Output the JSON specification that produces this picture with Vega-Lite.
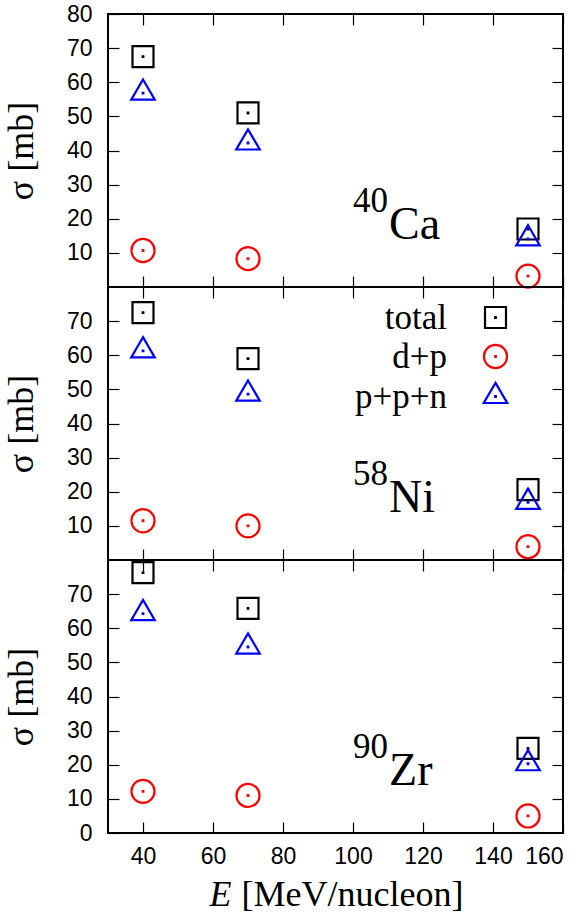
{
  "$schema": "https://vega.github.io/schema/vega-lite/v6.json",
  "autosize": {"type": "pad"},
  "padding": {"left": 2, "top": 2, "right": 0, "bottom": 0},
  "background": "white",
  "datasets": {
    "points": [
      {"nucleus": "Ca", "series": "total", "E": 40, "sigma": 67.5},
      {"nucleus": "Ca", "series": "total", "E": 70, "sigma": 51},
      {"nucleus": "Ca", "series": "total", "E": 150, "sigma": 17},
      {"nucleus": "Ca", "series": "d+p", "E": 40, "sigma": 10.7},
      {"nucleus": "Ca", "series": "d+p", "E": 70, "sigma": 8.3},
      {"nucleus": "Ca", "series": "d+p", "E": 150, "sigma": 3.2},
      {"nucleus": "Ca", "series": "p+p+n", "E": 40, "sigma": 56.8},
      {"nucleus": "Ca", "series": "p+p+n", "E": 70, "sigma": 42.2},
      {"nucleus": "Ca", "series": "p+p+n", "E": 150, "sigma": 14.1},
      {"nucleus": "Ni", "series": "total", "E": 40, "sigma": 72.5},
      {"nucleus": "Ni", "series": "total", "E": 70, "sigma": 59},
      {"nucleus": "Ni", "series": "total", "E": 150, "sigma": 20.6},
      {"nucleus": "Ni", "series": "d+p", "E": 40, "sigma": 11.5},
      {"nucleus": "Ni", "series": "d+p", "E": 70, "sigma": 10},
      {"nucleus": "Ni", "series": "d+p", "E": 150, "sigma": 3.9},
      {"nucleus": "Ni", "series": "p+p+n", "E": 40, "sigma": 61.3},
      {"nucleus": "Ni", "series": "p+p+n", "E": 70, "sigma": 48.6},
      {"nucleus": "Ni", "series": "p+p+n", "E": 150, "sigma": 16.9},
      {"nucleus": "Zr", "series": "total", "E": 40, "sigma": 76.3},
      {"nucleus": "Zr", "series": "total", "E": 70, "sigma": 65.8},
      {"nucleus": "Zr", "series": "total", "E": 150, "sigma": 24.8},
      {"nucleus": "Zr", "series": "d+p", "E": 40, "sigma": 12.2},
      {"nucleus": "Zr", "series": "d+p", "E": 70, "sigma": 11},
      {"nucleus": "Zr", "series": "d+p", "E": 150, "sigma": 5},
      {"nucleus": "Zr", "series": "p+p+n", "E": 40, "sigma": 64.3},
      {"nucleus": "Zr", "series": "p+p+n", "E": 70, "sigma": 54.5},
      {"nucleus": "Zr", "series": "p+p+n", "E": 150, "sigma": 20.3}
    ],
    "labels": [
      {"nucleus": "Ca", "mass": "40", "element": "Ca", "E": 110.3, "sigma": 14},
      {"nucleus": "Ni", "mass": "58", "element": "Ni", "E": 110.3, "sigma": 14},
      {"nucleus": "Zr", "mass": "90", "element": "Zr", "E": 110.3, "sigma": 14}
    ]
  },
  "config": {
    "view": {"stroke": "black", "strokeWidth": 2},
    "axis": {
      "domain": false,
      "grid": false,
      "labelFont": "Liberation Sans",
      "labelFontSize": 23,
      "labelColor": "black",
      "tickColor": "black",
      "tickWidth": 1.2,
      "tickSize": -11,
      "titleFont": "Liberation Serif",
      "titleFontSize": 36,
      "titleFontWeight": "normal",
      "titleColor": "black"
    },
    "text": {"font": "Liberation Serif", "color": "black"}
  },
  "spacing": 0,
  "bounds": "flush",
  "resolve": {"scale": {"color": "independent", "shape": "independent"}},
  "vconcat": [
    {
      "width": 455,
      "height": 273,
      "layer": [
        {
          "data": {"name": "points"},
          "transform": [{"filter": "datum.nucleus === 'Ca'"}],
          "mark": {"type": "point", "filled": false, "size": 441, "strokeWidth": 2.2, "opacity": 1},
          "encoding": {
            "x": {"field": "E", "type": "quantitative", "scale": {"domain": [30, 160], "nice": false, "zero": false},
                  "axis": {"orient": "bottom", "values": [40, 60, 80, 100, 120, 140, 160], "labels": false, "title": null}},
            "y": {"field": "sigma", "type": "quantitative", "scale": {"domain": [0, 80], "nice": false},
                  "axis": {"orient": "left", "values": [10, 20, 30, 40, 50, 60, 70, 80], "labelPadding": 27, "title": "σ [mb]", "titlePadding": 26}},
            "color": {"field": "series", "type": "nominal", "scale": {"domain": ["total", "d+p", "p+p+n"], "range": ["black", "#ff0000", "#0000ff"]}, "legend": null},
            "shape": {"field": "series", "type": "nominal", "scale": {"domain": ["total", "d+p", "p+p+n"], "range": ["M-1,-1H1V1H-1Z M-0.03,-0.03H0.03V0.03H-0.03Z", "M1.1,0A1.1,1.1,0,1,1,-1.1,0A1.1,1.1,0,1,1,1.1,0Z M-0.03,-0.03H0.03V0.03H-0.03Z", "M0,-1.3L1.12,0.62L-1.12,0.62Z M-0.03,-0.03H0.03V0.03H-0.03Z"]}, "legend": null}
          }
        },
        {
          "data": {"name": "points"},
          "transform": [{"filter": "datum.nucleus === 'Ca'"}],
          "mark": {"type": "point", "opacity": 0},
          "encoding": {
            "x": {"field": "E", "type": "quantitative", "scale": {"domain": [30, 160], "nice": false, "zero": false},
                  "axis": {"orient": "top", "values": [40, 60, 80, 100, 120, 140, 160], "labels": false, "title": null}},
            "y": {"field": "sigma", "type": "quantitative", "scale": {"domain": [0, 80], "nice": false},
                  "axis": {"orient": "right", "values": [10, 20, 30, 40, 50, 60, 70], "labels": false, "title": null}}
          }
        },
        {
          "data": {"name": "labels"},
          "transform": [{"filter": "datum.nucleus === 'Ca'"}],
          "mark": {"type": "text", "fontSize": 46, "align": "left", "baseline": "alphabetic"},
          "encoding": {
            "x": {"field": "E", "type": "quantitative", "axis": null},
            "y": {"field": "sigma", "type": "quantitative", "axis": null},
            "text": {"field": "element"}
          }
        },
        {
          "data": {"name": "labels"},
          "transform": [{"filter": "datum.nucleus === 'Ca'"}],
          "mark": {"type": "text", "fontSize": 35, "align": "right", "baseline": "alphabetic", "dx": -1, "dy": -27},
          "encoding": {
            "x": {"field": "E", "type": "quantitative", "axis": null},
            "y": {"field": "sigma", "type": "quantitative", "axis": null},
            "text": {"field": "mass"}
          }
        }
      ],
      "resolve": {"axis": {"x": "independent", "y": "independent"}}
    },
    {
      "width": 455,
      "height": 273,
      "layer": [
        {
          "data": {"name": "points"},
          "transform": [{"filter": "datum.nucleus === 'Ni'"}],
          "mark": {"type": "point", "filled": false, "size": 441, "strokeWidth": 2.2, "opacity": 1},
          "encoding": {
            "x": {"field": "E", "type": "quantitative", "scale": {"domain": [30, 160], "nice": false, "zero": false},
                  "axis": {"orient": "bottom", "values": [40, 60, 80, 100, 120, 140, 160], "labels": false, "title": null}},
            "y": {"field": "sigma", "type": "quantitative", "scale": {"domain": [0, 80], "nice": false},
                  "axis": {"orient": "left", "values": [10, 20, 30, 40, 50, 60, 70], "labelPadding": 27, "title": "σ [mb]", "titlePadding": 26}},
            "color": {"field": "series", "type": "nominal", "scale": {"domain": ["total", "d+p", "p+p+n"], "range": ["black", "#ff0000", "#0000ff"]},
                      "legend": {"orient": "none", "legendX": 370, "legendY": 13, "title": null, "padding": 0, "labelAlign": "right", "labelOffset": -66, "labelFont": "Liberation Serif", "labelFontSize": 35, "labelColor": "black", "symbolSize": 441, "symbolStrokeWidth": 2.2, "rowPadding": 3}},
            "shape": {"field": "series", "type": "nominal", "scale": {"domain": ["total", "d+p", "p+p+n"], "range": ["M-1,-1H1V1H-1Z M-0.03,-0.03H0.03V0.03H-0.03Z", "M1.1,0A1.1,1.1,0,1,1,-1.1,0A1.1,1.1,0,1,1,1.1,0Z M-0.03,-0.03H0.03V0.03H-0.03Z", "M0,-1.3L1.12,0.62L-1.12,0.62Z M-0.03,-0.03H0.03V0.03H-0.03Z"]},
                      "legend": {"orient": "none", "legendX": 370, "legendY": 13, "title": null, "padding": 0, "labelAlign": "right", "labelOffset": -66, "labelFont": "Liberation Serif", "labelFontSize": 35, "labelColor": "black", "symbolSize": 441, "symbolStrokeWidth": 2.2, "rowPadding": 3}}
          }
        },
        {
          "data": {"name": "points"},
          "transform": [{"filter": "datum.nucleus === 'Ni'"}],
          "mark": {"type": "point", "opacity": 0},
          "encoding": {
            "x": {"field": "E", "type": "quantitative", "scale": {"domain": [30, 160], "nice": false, "zero": false},
                  "axis": {"orient": "top", "values": [40, 60, 80, 100, 120, 140, 160], "labels": false, "title": null}},
            "y": {"field": "sigma", "type": "quantitative", "scale": {"domain": [0, 80], "nice": false},
                  "axis": {"orient": "right", "values": [10, 20, 30, 40, 50, 60, 70], "labels": false, "title": null}}
          }
        },
        {
          "data": {"name": "labels"},
          "transform": [{"filter": "datum.nucleus === 'Ni'"}],
          "mark": {"type": "text", "fontSize": 46, "align": "left", "baseline": "alphabetic"},
          "encoding": {
            "x": {"field": "E", "type": "quantitative", "axis": null},
            "y": {"field": "sigma", "type": "quantitative", "axis": null},
            "text": {"field": "element"}
          }
        },
        {
          "data": {"name": "labels"},
          "transform": [{"filter": "datum.nucleus === 'Ni'"}],
          "mark": {"type": "text", "fontSize": 35, "align": "right", "baseline": "alphabetic", "dx": -1, "dy": -27},
          "encoding": {
            "x": {"field": "E", "type": "quantitative", "axis": null},
            "y": {"field": "sigma", "type": "quantitative", "axis": null},
            "text": {"field": "mass"}
          }
        }
      ],
      "resolve": {"axis": {"x": "independent", "y": "independent"}}
    },
    {
      "width": 455,
      "height": 273,
      "layer": [
        {
          "data": {"name": "points"},
          "transform": [{"filter": "datum.nucleus === 'Zr'"}],
          "mark": {"type": "point", "filled": false, "size": 441, "strokeWidth": 2.2, "opacity": 1},
          "encoding": {
            "x": {"field": "E", "type": "quantitative", "scale": {"domain": [30, 160], "nice": false, "zero": false},
                  "axis": {"orient": "bottom", "values": [40, 60, 80, 100, 120, 140, 160], "labelPadding": 23, "title": "E", "titleFontStyle": "italic", "titleAlign": "left", "titleBaseline": "alphabetic", "titleX": 101, "titleY": 72}},
            "y": {"field": "sigma", "type": "quantitative", "scale": {"domain": [0, 80], "nice": false},
                  "axis": {"orient": "left", "values": [0, 10, 20, 30, 40, 50, 60, 70], "labelPadding": 27, "title": "σ [mb]", "titlePadding": 26}},
            "color": {"field": "series", "type": "nominal", "scale": {"domain": ["total", "d+p", "p+p+n"], "range": ["black", "#ff0000", "#0000ff"]}, "legend": null},
            "shape": {"field": "series", "type": "nominal", "scale": {"domain": ["total", "d+p", "p+p+n"], "range": ["M-1,-1H1V1H-1Z M-0.03,-0.03H0.03V0.03H-0.03Z", "M1.1,0A1.1,1.1,0,1,1,-1.1,0A1.1,1.1,0,1,1,1.1,0Z M-0.03,-0.03H0.03V0.03H-0.03Z", "M0,-1.3L1.12,0.62L-1.12,0.62Z M-0.03,-0.03H0.03V0.03H-0.03Z"]}, "legend": null}
          }
        },
        {
          "data": {"name": "points"},
          "transform": [{"filter": "datum.nucleus === 'Zr'"}],
          "mark": {"type": "point", "opacity": 0},
          "encoding": {
            "x": {"field": "E", "type": "quantitative", "scale": {"domain": [30, 160], "nice": false, "zero": false},
                  "axis": {"orient": "top", "values": [40, 60, 80, 100, 120, 140, 160], "labels": false, "title": "[MeV/nucleon]", "titleAlign": "left", "titleBaseline": "alphabetic", "titleX": 133, "titleY": 345}},
            "y": {"field": "sigma", "type": "quantitative", "scale": {"domain": [0, 80], "nice": false},
                  "axis": {"orient": "right", "values": [10, 20, 30, 40, 50, 60, 70], "labels": false, "title": null}}
          }
        },
        {
          "data": {"name": "labels"},
          "transform": [{"filter": "datum.nucleus === 'Zr'"}],
          "mark": {"type": "text", "fontSize": 46, "align": "left", "baseline": "alphabetic"},
          "encoding": {
            "x": {"field": "E", "type": "quantitative", "axis": null},
            "y": {"field": "sigma", "type": "quantitative", "axis": null},
            "text": {"field": "element"}
          }
        },
        {
          "data": {"name": "labels"},
          "transform": [{"filter": "datum.nucleus === 'Zr'"}],
          "mark": {"type": "text", "fontSize": 35, "align": "right", "baseline": "alphabetic", "dx": -1, "dy": -27},
          "encoding": {
            "x": {"field": "E", "type": "quantitative", "axis": null},
            "y": {"field": "sigma", "type": "quantitative", "axis": null},
            "text": {"field": "mass"}
          }
        }
      ],
      "resolve": {"axis": {"x": "independent", "y": "independent"}}
    }
  ]
}
